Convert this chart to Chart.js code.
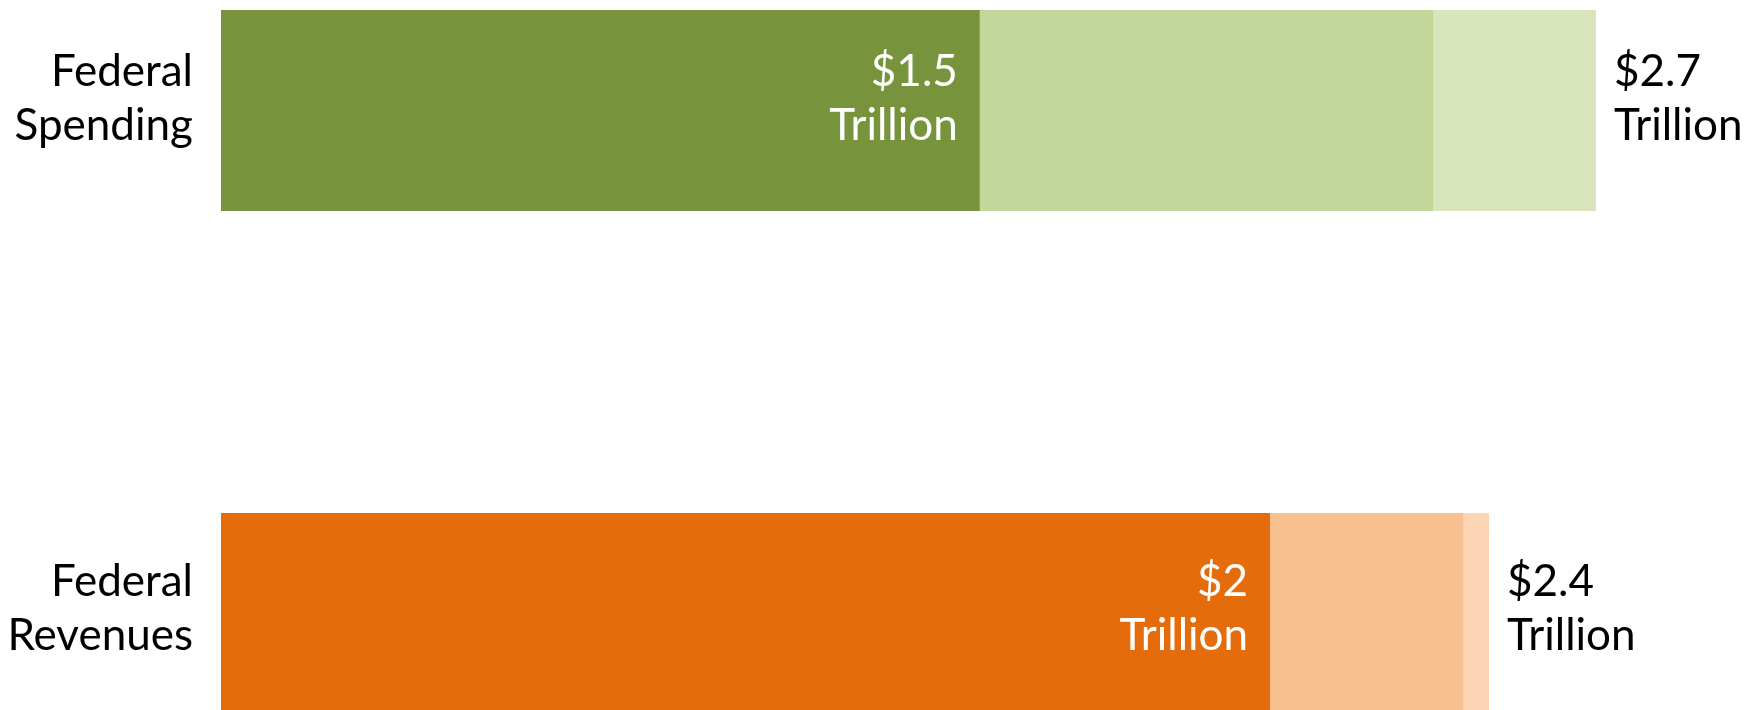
<!DOCTYPE html>
<html>
<head>
<meta charset="utf-8">
<script src="https://cdn.jsdelivr.net/npm/chart.js@4.4.1/dist/chart.umd.min.js"></script>
<style>
  html, body { margin: 0; padding: 0; background: #fff; }
  #wrap { width: 1756px; height: 710px; }
</style>
</head>
<body>
<div id="wrap"><canvas id="chart"></canvas></div>
<script>
// categories (multi-line labels)
const categories = [["Federal", "Spending"], ["Federal", "Revenues"]];

// stacked segments, trillions of dollars
const baseValues = [1.49, 2.06];
const middleValues = [0.89, 0.38];
const topValues = [0.32, 0.05];

// printed labels
const insideLabels = ["$1.5", "$2"];
const totalLabels = ["$2.7", "$2.4"];
const unitWord = "Trillion";

const darkColors = ["#77933C", "#E46C0A"];
const midColors = ["#C4D79B", "#F9C08F"];
const lightColors = ["#D8E4BC", "#FCD5B4"];

const FONT = "44px Lato";

const labelPlugin = {
  id: "barText",
  afterDatasetsDraw(chart, args, opts) {
    const ctx = chart.ctx;
    const area = chart.chartArea;
    ctx.save();
    ctx.font = FONT;
    ctx.textBaseline = "alphabetic";
    categories.forEach((lines, i) => {
      const base = chart.getDatasetMeta(0).data[i];
      const last = chart.getDatasetMeta(2).data[i];
      const y = base.y + opts.rowNudge[i];
      const y1 = y - 25;
      const y2 = y + 29;

      // category name, left of the bar
      ctx.fillStyle = "#000";
      ctx.textAlign = "right";
      ctx.fillText(lines[0], area.left - 28, y1);
      ctx.fillText(lines[1], area.left - 28, y2);

      // value inside the dark segment
      ctx.fillStyle = "#fff";
      ctx.fillText(insideLabels[i], base.x - 22, y1);
      ctx.fillText(unitWord, base.x - 22, y2);

      // total, right of the bar
      ctx.fillStyle = "#000";
      ctx.textAlign = "left";
      ctx.fillText(totalLabels[i], last.x + 18, y1);
      ctx.fillText(unitWord, last.x + 18, y2);
    });
    ctx.restore();
  }
};

new Chart(document.getElementById("chart"), {
  type: "bar",
  data: {
    labels: categories,
    datasets: [
      { data: baseValues, backgroundColor: darkColors },
      { data: middleValues, backgroundColor: midColors },
      { data: topValues, backgroundColor: lightColors },
    ],
  },
  options: {
    indexAxis: "y",
    responsive: true,
    maintainAspectRatio: false,
    animation: false,
    events: [],
    layout: { padding: { left: 221, right: 160, top: 110.5, bottom: 96.5 } },
    datasets: {
      bar: { categoryPercentage: 0.4, barPercentage: 1, borderWidth: 0, clip: false },
    },
    plugins: {
      legend: { display: false },
      tooltip: { enabled: false },
      barText: { rowNudge: [0, 7] },
    },
    scales: {
      x: { stacked: true, min: 0, max: 2.7, display: false },
      y: { stacked: true, offset: false, display: false },
    },
  },
  plugins: [labelPlugin],
});
</script>
</body>
</html>
